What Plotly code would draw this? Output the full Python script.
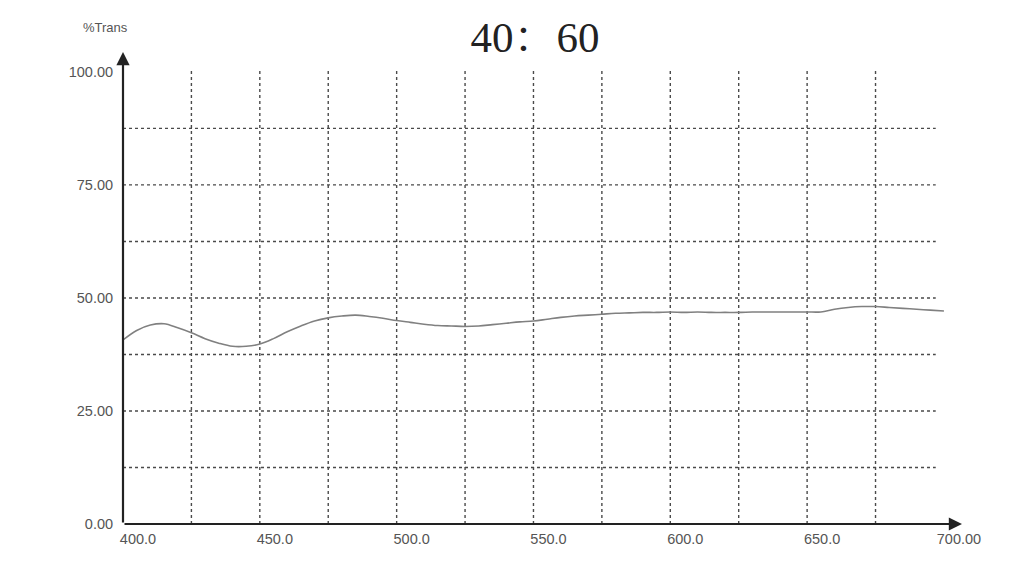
import plotly.graph_objects as go

# ---- data ----
wavelength = [400, 405, 410, 415, 420, 425, 430, 435, 440, 445, 450, 455, 460, 465, 470,
              475, 480, 485, 490, 495, 500, 505, 510, 515, 520, 525, 530, 535, 540, 545,
              550, 555, 560, 565, 570, 575, 580, 585, 590, 595, 600, 605, 610, 615, 620,
              625, 630, 635, 640, 645, 650, 655, 660, 665, 670, 675, 680, 685, 690, 695, 700]
trans = [40.7, 42.8, 44.0, 44.3, 43.4, 42.3, 41.0, 40.0, 39.3, 39.3, 39.8, 41.0, 42.5, 43.8, 44.9,
         45.6, 46.0, 46.2, 45.9, 45.5, 45.0, 44.6, 44.2, 43.9, 43.8, 43.7, 43.8, 44.1, 44.4, 44.7,
         44.9, 45.3, 45.7, 46.0, 46.2, 46.4, 46.6, 46.7, 46.8, 46.8, 46.9, 46.8, 46.9, 46.8, 46.8,
         46.8, 46.9, 46.9, 46.9, 46.9, 46.9, 46.9, 47.5, 47.9, 48.1, 48.1, 47.9, 47.7, 47.5, 47.3, 47.1]

x_ticks = [400, 450, 500, 550, 600, 650, 700]
x_ticktext = ["400.0", "450.0", "500.0", "550.0", "600.0", "650.0", "700.00"]
y_ticks = [0, 25, 50, 75, 100]
y_ticktext = ["0.00", "25.00", "50.00", "75.00", "100.00"]
v_grid = [425, 450, 475, 500, 525, 550, 575, 600, 625, 650, 675]
h_grid = [12.5, 25, 37.5, 50, 62.5, 75, 87.5]

title_text = "40\uff1a60"
y_title = "%Trans"

X_MAX = 706.6
Y_MAX = 104.4

W, H = 1024, 569
ML, MR, MT, MB = 115, 70, 44, 53

fig = go.Figure()
fig.add_trace(go.Scatter(x=wavelength, y=trans, mode="lines",
                         line=dict(color="#808080", width=1.6, shape="spline"),
                         showlegend=False, hoverinfo="skip"))

grid_color = "#4a4a4a"
for gx in v_grid:
    fig.add_shape(type="line", xref="x", yref="y", x0=gx, x1=gx, y0=0, y1=100.5,
                  line=dict(color=grid_color, width=1.4, dash="3px,3px"), layer="below")
for gy in h_grid:
    fig.add_shape(type="line", xref="x", yref="y", x0=400, x1=697, y0=gy, y1=gy,
                  line=dict(color=grid_color, width=1.4, dash="3px,3px"), layer="below")

# axes with arrows
fig.add_annotation(x=X_MAX, y=0, ax=400, ay=0, xref="x", yref="y", axref="x", ayref="y",
                   showarrow=True, arrowhead=2, arrowsize=1.2, arrowwidth=2.2,
                   arrowcolor="#222222", text="")
fig.add_annotation(x=400, y=Y_MAX, ax=400, ay=0, xref="x", yref="y", axref="x", ayref="y",
                   showarrow=True, arrowhead=2, arrowsize=1.2, arrowwidth=2.2,
                   arrowcolor="#222222", text="")

pw = W - ML - MR
ph = H - MT - MB
# %Trans label centred at figure pixel (97, 19)
fig.add_annotation(x=(97 - ML) / pw, y=1 + (MT - 19) / ph, xref="paper", yref="paper",
                   xanchor="center", yanchor="middle",
                   text=y_title, showarrow=False,
                   font=dict(family="Liberation Sans, Arial", size=13, color="#555555"))

fig.update_layout(
    width=W, height=H,
    margin=dict(l=ML, r=MR, t=MT, b=MB),
    paper_bgcolor="white", plot_bgcolor="white",
    title=dict(text=title_text, x=527 / W, xanchor="center", y=1 - 29 / H, yanchor="middle",
               font=dict(family="Liberation Serif, Noto Serif CJK SC, serif", size=43, color="#222222")),
    xaxis=dict(range=[400, X_MAX], showgrid=False, zeroline=False, showline=False,
               tickvals=x_ticks, ticktext=x_ticktext, ticks="outside", ticklen=2,
               tickcolor="white", ticklabelshift=15,
               tickfont=dict(family="Liberation Sans, Arial", size=14.5, color="#555555")),
    yaxis=dict(range=[0, Y_MAX], showgrid=False, zeroline=False, showline=False,
               tickvals=y_ticks, ticktext=y_ticktext, ticks="outside", ticklen=6, tickcolor="white",
               tickfont=dict(family="Liberation Sans, Arial", size=14.5, color="#555555")),
)

fig.write_html("out.html")
